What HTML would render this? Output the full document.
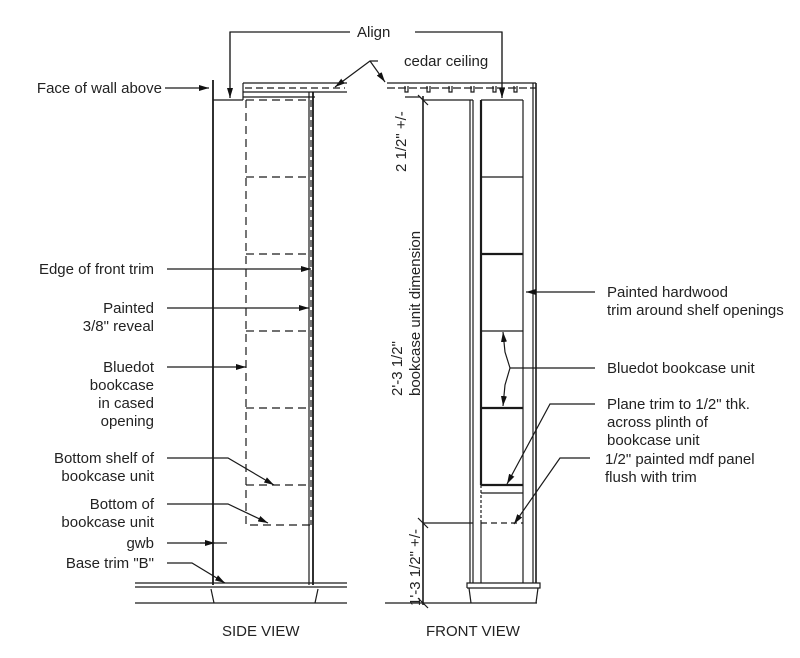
<!DOCTYPE html>
<html><head><meta charset="utf-8"><style>
html,body{margin:0;padding:0;background:#fff;}
svg{display:block;}
text{font-family:"Liberation Sans",Arial,sans-serif;font-size:15px;fill:#222;}
</style></head><body>
<svg width="800" height="658" viewBox="0 0 800 658" xmlns="http://www.w3.org/2000/svg">
<defs>
<marker id="a" viewBox="0 0 10 6" refX="10" refY="3" markerWidth="10" markerHeight="6" orient="auto" markerUnits="userSpaceOnUse"><path d="M0,0 L10,3 L0,6 z" fill="#111"/></marker>
</defs>
<g stroke="#1a1a1a" fill="none" stroke-width="1.2">
<!-- Align -->
<polyline points="230,98 230,32 350,32"/>
<polyline points="415,32 502,32 502,98"/>
<line x1="230" y1="32" x2="230" y2="98" marker-end="url(#a)"/>
<line x1="502" y1="32" x2="502" y2="98" marker-end="url(#a)"/>
<!-- cedar ceiling leaders -->
<polyline points="378,61 370,61 335,87" marker-end="url(#a)"/>
<polyline points="370,61 385,82" marker-end="url(#a)"/>
<!-- SIDE VIEW -->
<line x1="213" y1="80" x2="213" y2="585" stroke-width="1.8"/>
<line x1="213" y1="100" x2="243" y2="100"/>
<line x1="243" y1="100" x2="243" y2="83"/>
<line x1="243" y1="83" x2="347" y2="83"/>
<line x1="243" y1="92" x2="347" y2="92"/>
<line x1="245" y1="88" x2="345" y2="88" stroke-dasharray="7,4"/>
<line x1="243" y1="97" x2="315" y2="97"/>
<line x1="309" y1="92" x2="309" y2="585"/>
<line x1="313" y1="92" x2="313" y2="585" stroke-width="1.8"/>
<line x1="311" y1="100" x2="311" y2="525" stroke-dasharray="7,3"/>
<polyline points="246,100 246,525 310,525" stroke-dasharray="8,5"/>
<line x1="246" y1="100" x2="310" y2="100" stroke-dasharray="8,5"/>
<line x1="246" y1="177" x2="310" y2="177" stroke-dasharray="8,5"/>
<line x1="246" y1="254" x2="310" y2="254" stroke-dasharray="8,5"/>
<line x1="246" y1="331" x2="310" y2="331" stroke-dasharray="8,5"/>
<line x1="246" y1="408" x2="310" y2="408" stroke-dasharray="8,5"/>
<line x1="246" y1="485" x2="310" y2="485" stroke-dasharray="8,5"/>
<line x1="135" y1="583" x2="347" y2="583"/>
<line x1="135" y1="587" x2="347" y2="587"/>
<line x1="135" y1="603" x2="347" y2="603"/>
<line x1="211" y1="589" x2="214" y2="603"/>
<line x1="318" y1="589" x2="315" y2="603"/>
<!-- side leaders -->
<line x1="165" y1="88" x2="209" y2="88" marker-end="url(#a)"/>
<line x1="167" y1="269" x2="311" y2="269" marker-end="url(#a)"/>
<line x1="167" y1="308" x2="309" y2="308" marker-end="url(#a)"/>
<line x1="167" y1="367" x2="246" y2="367" marker-end="url(#a)"/>
<polyline points="167,458 228,458 274,485" marker-end="url(#a)"/>
<polyline points="167,504 228,504 268,523" marker-end="url(#a)"/>
<line x1="167" y1="543" x2="227" y2="543"/>
<line x1="200" y1="543" x2="215" y2="543" marker-end="url(#a)"/>
<polyline points="167,563 192,563 225,583" marker-end="url(#a)"/>
<!-- FRONT VIEW -->
<line x1="387" y1="83" x2="536" y2="83"/>
<line x1="387" y1="88" x2="536" y2="88" stroke-dasharray="8,3"/>
<path d="M405,86v6h3v-6M427,86v6h3v-6M449,86v6h3v-6M471,86v6h3v-6M493,86v6h3v-6M514,86v6h3v-6"/>
<line x1="423" y1="96" x2="423" y2="605" stroke-width="1.6"/>
<line x1="423" y1="100" x2="473" y2="100"/>
<line x1="418" y1="95" x2="428" y2="105"/>
<line x1="418" y1="518" x2="428" y2="528"/>
<line x1="418" y1="598" x2="428" y2="608"/>
<line x1="423" y1="523" x2="473" y2="523"/>
<polyline points="405,97 420,97 423,100"/>
<line x1="470" y1="100" x2="470" y2="583"/>
<line x1="473" y1="100" x2="473" y2="583"/>
<line x1="481" y1="100" x2="481" y2="485" stroke-width="2.2"/>
<line x1="481" y1="485" x2="481" y2="523" stroke-dasharray="3,2"/>
<line x1="481" y1="523" x2="481" y2="583"/>
<line x1="481" y1="100" x2="523" y2="100"/>
<line x1="523" y1="100" x2="523" y2="583"/>
<line x1="533" y1="83" x2="533" y2="583"/>
<line x1="536" y1="83" x2="536" y2="583" stroke-width="1.6"/>
<line x1="481" y1="177" x2="523" y2="177"/>
<line x1="481" y1="254" x2="523" y2="254" stroke-width="2.2"/>
<line x1="481" y1="331" x2="523" y2="331"/>
<line x1="481" y1="408" x2="523" y2="408" stroke-width="2.2"/>
<line x1="481" y1="485" x2="523" y2="485" stroke-width="2.2"/>
<line x1="481" y1="493" x2="523" y2="493"/>
<line x1="481" y1="523" x2="523" y2="523" stroke-dasharray="6,4"/>
<polyline points="467,588 467,583 540,583 540,588 467,588"/>
<line x1="385" y1="603" x2="537" y2="603"/>
<line x1="469" y1="588" x2="471" y2="603"/>
<line x1="538" y1="588" x2="536" y2="603"/>
<!-- front leaders -->
<line x1="595" y1="292" x2="526" y2="292" marker-end="url(#a)"/>
<line x1="595" y1="368" x2="510" y2="368"/>
<polyline points="510,368 505,352 503,332" marker-end="url(#a)"/>
<polyline points="510,368 505,385 503,406" marker-end="url(#a)"/>
<polyline points="595,404 550,404 507,484" marker-end="url(#a)"/>
<polyline points="590,458 560,458 514,524" marker-end="url(#a)"/>
</g>
<text x="357" y="37">Align</text>
<text x="404" y="66">cedar ceiling</text>
<text x="162" y="93" text-anchor="end">Face of wall above</text>
<text x="154" y="274" text-anchor="end">Edge of front trim</text>
<text x="154" y="313" text-anchor="end">Painted</text>
<text x="154" y="331" text-anchor="end">3/8" reveal</text>
<text x="154" y="372" text-anchor="end">Bluedot</text>
<text x="154" y="390" text-anchor="end">bookcase</text>
<text x="154" y="408" text-anchor="end">in cased</text>
<text x="154" y="426" text-anchor="end">opening</text>
<text x="154" y="463" text-anchor="end">Bottom shelf of</text>
<text x="154" y="481" text-anchor="end">bookcase unit</text>
<text x="154" y="509" text-anchor="end">Bottom of</text>
<text x="154" y="527" text-anchor="end">bookcase unit</text>
<text x="154" y="548" text-anchor="end">gwb</text>
<text x="154" y="568" text-anchor="end">Base trim "B"</text>
<text x="222" y="636">SIDE VIEW</text>
<text x="426" y="636">FRONT VIEW</text>
<text x="607" y="297">Painted hardwood</text>
<text x="607" y="315">trim around shelf openings</text>
<text x="607" y="373">Bluedot bookcase unit</text>
<text x="607" y="409">Plane trim to 1/2" thk.</text>
<text x="607" y="427">across plinth of</text>
<text x="607" y="445">bookcase unit</text>
<text x="605" y="464">1/2" painted mdf panel</text>
<text x="605" y="482">flush with trim</text>
<text transform="translate(406,172) rotate(-90)">2 1/2" +/-</text>
<text transform="translate(402,396) rotate(-90)">2'-3 1/2"</text>
<text transform="translate(420,396) rotate(-90)">bookcase unit dimension</text>
<text transform="translate(420,606) rotate(-90)">1'-3 1/2" +/-</text>
</svg>
</body></html>
